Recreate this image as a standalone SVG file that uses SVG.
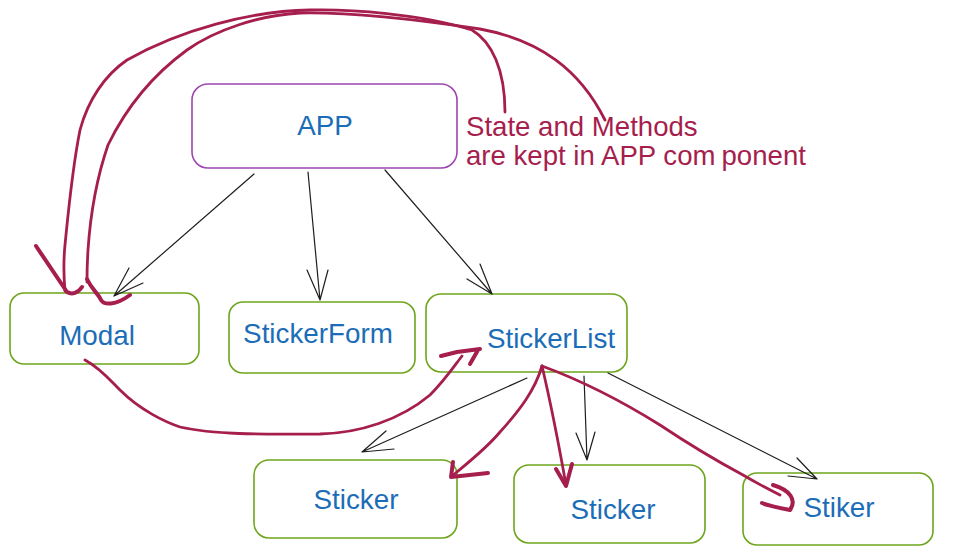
<svg xmlns="http://www.w3.org/2000/svg" width="960" height="555" viewBox="0 0 960 555">
<style>
.node{fill:#ffffff;stroke:#6ea51c;stroke-width:1.6}
.app{fill:#ffffff;stroke:#9c46b0;stroke-width:1.6}
.lbl{font-family:"Liberation Sans",Arial,sans-serif;font-size:27.8px;fill:#1c6db7;text-anchor:middle}
.note{font-family:"Liberation Sans",Arial,sans-serif;font-size:27.6px;fill:#a61e4d}
.blk{fill:none;stroke:#1e1e1e;stroke-width:1.2;stroke-linecap:round;stroke-linejoin:round}
.red{fill:none;stroke:#a61e4d;stroke-width:2.8;stroke-linecap:round;stroke-linejoin:round}
.redh{fill:none;stroke:#a61e4d;stroke-width:4;stroke-linecap:round;stroke-linejoin:round}
</style>
<rect width="960" height="555" fill="#ffffff"/>
<g id="app">
<rect class="app" x="192" y="84" width="265" height="84" rx="16"/>
<text class="lbl" x="325" y="135">APP</text>
</g>
<g id="note">
<text class="note" x="466" y="136">State and Methods</text>
<text class="note" x="466" y="165">are kept in APP com<tspan dx="6">ponent</tspan></text>
</g>
<g id="modal">
<rect class="node" x="10" y="293" width="189" height="71" rx="14"/>
<text class="lbl" x="97" y="345">Modal</text>
</g>
<g id="stickerform">
<rect class="node" x="229" y="302" width="186" height="71" rx="14"/>
<text class="lbl" x="318" y="343">StickerForm</text>
</g>
<g id="stickerlist">
<rect class="node" x="426" y="294" width="201" height="78" rx="15"/>
<text class="lbl" x="551" y="348">StickerList</text>
</g>
<g id="sticker1">
<rect class="node" x="254" y="460" width="203" height="78" rx="15"/>
<text class="lbl" x="356" y="509">Sticker</text>
</g>
<g id="sticker2">
<rect class="node" x="514" y="465" width="191" height="78" rx="15"/>
<text class="lbl" x="613" y="519">Sticker</text>
</g>
<g id="stiker">
<rect class="node" x="743" y="473" width="190" height="72" rx="14"/>
<text class="lbl" x="839" y="517">Stiker</text>
</g>
<g id="connectors">
<path class="blk" d="M254,174 L114,296 M129,268 L114,296 L143,283"/>
<path class="blk" d="M308,172 L320,300 M307,270 L320,300 L328,270"/>
<path class="blk" d="M385,170 L492,294 M480,264 L492,294 L467,279"/>
<path class="blk" d="M527,378 L362,452 M386,431 L362,452 L394,449"/>
<path class="blk" d="M584,376 L587,460 M576,433 L587,460 L595,432"/>
<path class="blk" d="M608,373 L817,479 M797,458 L817,479 L788,476"/>
<path class="red" d="M505,112 C505,70 492,42 472,30 C420,14 350,9 310,10 C250,11 180,30 127,60 C105,75 88,100 80,130 C72,170 68,215 65,245 C63,265 64,280 65,291"/>
<path class="red" d="M605,120 C580,70 540,40 480,29 C420,20 350,12 300,13 C260,15 215,30 187,50 C150,77 125,110 108,145 C96,180 90,220 88,250 C87,265 87,275 87,282"/>
<path class="redh" d="M36,246 L67,292 C72,295 78,293 82,287 M87,279 C92,290 98,293 101,300 C104,305 115,306 130,295"/>
<path class="red" d="M85,360 C100,368 110,380 120,390 C140,410 165,422 180,427 C220,436 280,434 320,434 C360,433 400,420 430,395 C445,380 455,365 462,356"/>
<path class="redh" d="M441,356 L457,352 L480,349 M478,350 L470,364"/>
<path class="red" d="M542,366 C535,390 520,410 500,432 C485,450 465,465 452,476"/>
<path class="redh" d="M453,462 L451,477 L488,473"/>
<path class="red" d="M542,366 C550,400 558,440 566,485"/>
<path class="redh" d="M556,469 L566,486 L572,464"/>
<path class="red" d="M542,366 C580,380 620,400 660,425 C690,445 715,460 743,475 C755,482 770,490 780,495"/>
<path class="redh" d="M773,485 C790,490 797,500 790,510 C780,508 770,506 762,503"/>
</g>
</svg>
